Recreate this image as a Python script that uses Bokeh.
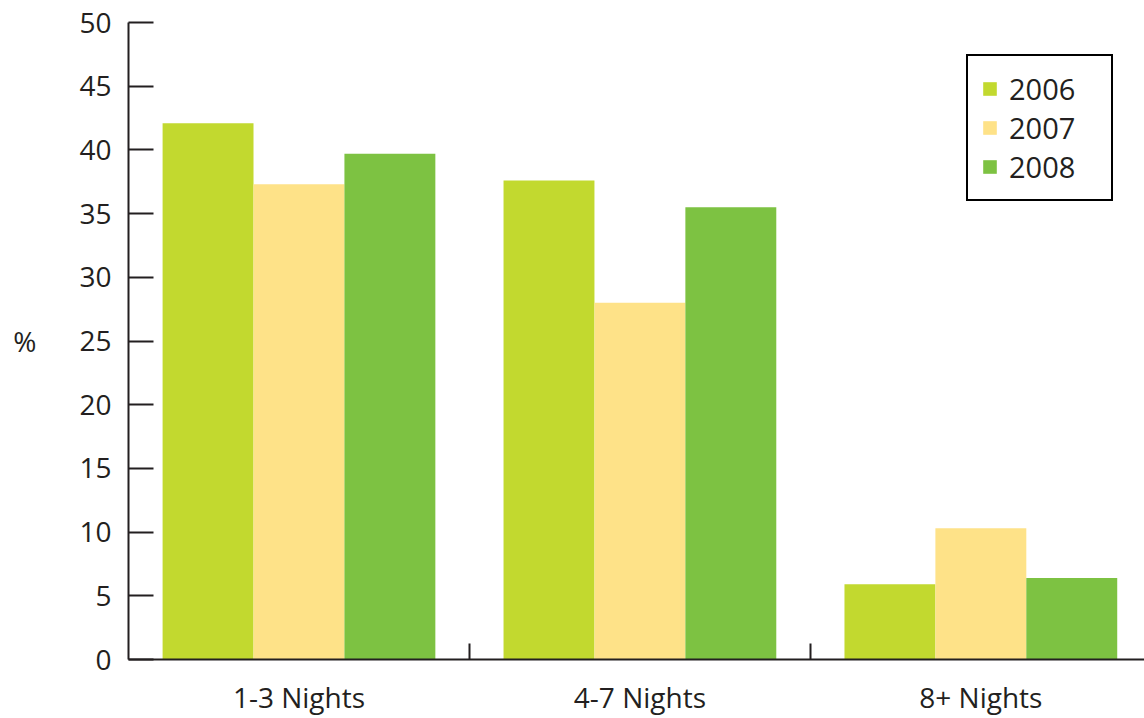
from bokeh.plotting import figure
from bokeh.models import Range1d, FixedTicker, ColumnDataSource, Legend, LegendItem
from bokeh.transform import dodge
from bokeh.embed import file_html
from bokeh.resources import INLINE

categories = ["1-3 Nights", "4-7 Nights", "8+ Nights"]
years = ["2006", "2007", "2008"]
v2006 = [42.1, 37.6, 5.9]
v2007 = [37.3, 28.0, 10.3]
v2008 = [39.7, 35.5, 6.4]
y_ticks = [0, 5, 10, 15, 20, 25, 30, 35, 40, 45, 50]
colors = ["#C2D92F", "#FEE288", "#7DC242"]

FONT = "Open Sans"
TXT = "#231F20"

centers = [i + 0.5 for i in range(len(categories))]
bounds = [i for i in range(1, len(categories))]
src = ColumnDataSource(dict(x=centers, v2006=v2006, v2007=v2007, v2008=v2008))

p = figure(width=1144, height=718, output_backend="svg", toolbar_location=None,
           x_range=Range1d(0, 2.98), y_range=Range1d(0, 50),
           min_border_left=128, min_border_right=0, min_border_top=22, min_border_bottom=55)
p.outline_line_color = None
p.xgrid.visible = False
p.ygrid.visible = False

bw = 0.8 / 3
renderers = []
for off, col, key in zip([-bw, 0, bw], colors, ["v2006", "v2007", "v2008"]):
    r = p.vbar(x=dodge("x", off, range=p.x_range), top=key, width=bw, source=src,
               fill_color=col, line_color=None)
    renderers.append(r)

# y axis
ya = p.yaxis[0]
ya.ticker = FixedTicker(ticks=y_ticks)
ya.major_tick_in = 25
ya.major_tick_out = 0
ya.minor_tick_line_color = None
ya.axis_line_width = 2
ya.major_tick_line_width = 2
ya.axis_line_color = TXT
ya.major_tick_line_color = TXT
ya.major_label_text_font = FONT
ya.major_label_text_font_size = "28px"
ya.major_label_text_color = TXT
ya.major_label_standoff = 17
ya.axis_label = "%"
ya.axis_label_orientation = "horizontal"
ya.axis_label_text_font = FONT
ya.axis_label_text_font_size = "28px"
ya.axis_label_text_font_style = "normal"
ya.axis_label_text_color = TXT
ya.axis_label_standoff = 40

# x axis
xa = p.xaxis[0]
xa.ticker = FixedTicker(ticks=centers, minor_ticks=bounds)
xa.major_label_overrides = {c: lab for c, lab in zip(centers, categories)}
xa.major_tick_in = 0
xa.major_tick_out = 0
xa.minor_tick_in = 16
xa.minor_tick_out = 0
xa.minor_tick_line_width = 2
xa.minor_tick_line_color = TXT
xa.axis_line_width = 2
xa.axis_line_color = TXT
xa.major_label_text_font = FONT
xa.major_label_text_font_size = "28px"
xa.major_label_text_color = TXT
xa.major_label_standoff = 18

legend = Legend(items=[LegendItem(label=y, renderers=[r]) for y, r in zip(years, renderers)],
                location=(838, 458))
legend.border_line_color = "#000000"
legend.border_line_alpha = 1.0
legend.border_line_width = 2
legend.label_text_font = FONT
legend.label_text_font_size = "29px"
legend.label_text_color = TXT
legend.glyph_width = 17
legend.glyph_height = 17
legend.label_standoff = 11
legend.label_width = 89
legend.padding = 13
legend.spacing = -2
legend.margin = 0
p.add_layout(legend)

open("out.html", "w").write(file_html(p, INLINE))
